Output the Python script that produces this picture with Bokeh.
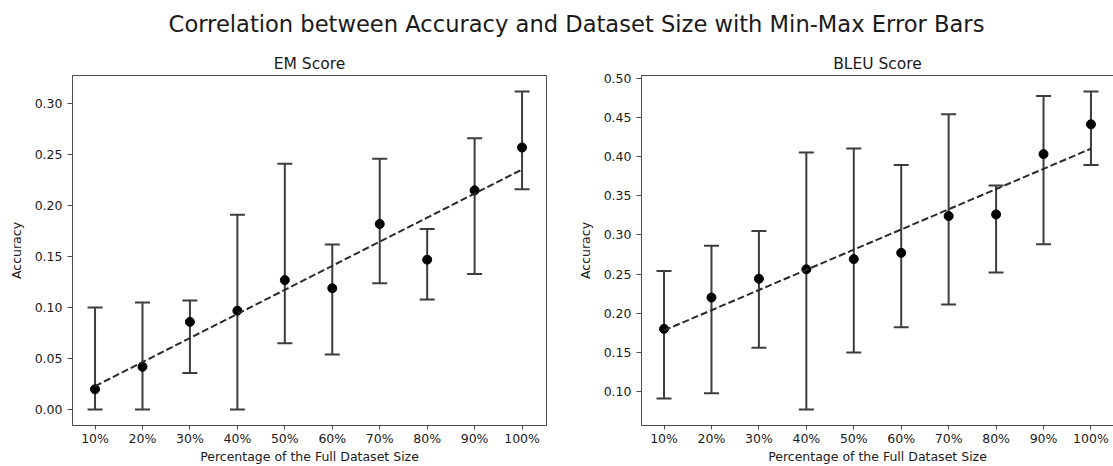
import numpy as np
from bokeh.plotting import figure
from bokeh.layouts import column, row
from bokeh.models import (Range1d, FixedTicker, Label, LinearAxis,
                          NumeralTickFormatter, ColumnDataSource)
from bokeh.embed import file_html
from bokeh.resources import INLINE

# Dataset fractions used for training
sizes = ["10%", "20%", "30%", "40%", "50%", "60%", "70%", "80%", "90%", "100%"]

# Exact-match score: mean over runs, with min / max across runs
em_mean = [0.020, 0.042, 0.086, 0.097, 0.127, 0.119, 0.182, 0.147, 0.215, 0.257]
em_min = [0.000, 0.000, 0.036, 0.000, 0.065, 0.054, 0.124, 0.108, 0.133, 0.216]
em_max = [0.100, 0.105, 0.107, 0.191, 0.241, 0.162, 0.246, 0.177, 0.266, 0.312]

# BLEU score: mean over runs, with min / max across runs
bleu_mean = [0.180, 0.220, 0.244, 0.256, 0.269, 0.277, 0.324, 0.326, 0.403, 0.441]
bleu_min = [0.091, 0.098, 0.156, 0.077, 0.150, 0.182, 0.211, 0.252, 0.288, 0.389]
bleu_max = [0.254, 0.286, 0.305, 0.405, 0.410, 0.389, 0.454, 0.363, 0.477, 0.483]

em_ticks = [0.00, 0.05, 0.10, 0.15, 0.20, 0.25, 0.30]
bleu_ticks = [0.10, 0.15, 0.20, 0.25, 0.30, 0.35, 0.40, 0.45, 0.50]

FONT = "DejaVu Sans"
SPINE = "#4d4d4d"
BAR = "#3d3d3d"
TEXT = "#1a1a1a"
PANEL_H = 422


def panel(title, mean, lo, hi, yticks, width, border_left, border_right, x_end, full_outline):
    idx = list(range(len(sizes)))
    pad = 0.05 * (max(hi) - min(lo))
    p = figure(width=width, height=PANEL_H, output_backend="svg", toolbar_location=None,
               x_range=Range1d(-0.475, x_end),
               y_range=Range1d(min(lo) - pad, max(hi) + pad),
               min_border_left=border_left, min_border_right=border_right,
               min_border_top=31, min_border_bottom=40, title=title)
    p.background_fill_color = "white"
    p.border_fill_color = "white"
    p.xgrid.visible = False
    p.ygrid.visible = False

    p.title.align = "center"
    p.title.text_font = FONT
    p.title.text_font_size = "15.5px"
    p.title.text_font_style = "normal"
    p.title.text_color = TEXT
    p.title.standoff = 5

    xax = p.below[0]
    yax = p.left[0]
    xax.ticker = FixedTicker(ticks=idx)
    xax.major_label_overrides = {i: s for i, s in enumerate(sizes)}
    xax.axis_label = "Percentage of the Full Dataset Size"
    yax.ticker = FixedTicker(ticks=yticks)
    yax.formatter = NumeralTickFormatter(format="0.00")
    yax.axis_label = "Accuracy"

    for ax in (xax, yax):
        ax.axis_line_color = SPINE
        ax.major_tick_line_color = SPINE
        ax.major_tick_out = 5
        ax.major_tick_in = 0
        ax.minor_tick_line_color = None
        ax.major_label_text_font = FONT
        ax.major_label_text_font_size = "12.5px"
        ax.major_label_text_color = TEXT
        ax.axis_label_text_font = FONT
        ax.axis_label_text_font_size = "12.5px"
        ax.axis_label_text_font_style = "normal"
        ax.axis_label_text_color = TEXT
    xax.major_tick_out = 4
    xax.major_label_standoff = 1
    xax.axis_label_standoff = 0
    yax.major_label_standoff = 5
    yax.axis_label_standoff = 8

    if full_outline:
        p.outline_line_color = SPINE
        p.outline_line_width = 1
    else:
        # top spine only; the right edge runs off the canvas
        p.outline_line_color = None
        top = LinearAxis(ticker=FixedTicker(ticks=[]))
        top.axis_line_color = SPINE
        top.major_tick_line_color = None
        top.minor_tick_line_color = None
        top.major_label_text_font_size = "0px"
        top.major_label_standoff = 0
        top.axis_label = None
        p.add_layout(top, "above")

    src = ColumnDataSource(dict(x=idx, mean=mean, lo=lo, hi=hi))
    # min-max error bars with caps
    p.segment(x0="x", y0="lo", x1="x", y1="hi", source=src, line_color=BAR, line_width=2)
    p.scatter(x="x", y="lo", marker="dash", size=15, source=src, line_color=BAR, line_width=2)
    p.scatter(x="x", y="hi", marker="dash", size=15, source=src, line_color=BAR, line_width=2)
    # mean values
    p.scatter(x="x", y="mean", size=9, source=src, fill_color="black", line_color="black")
    # least-squares trend through the means
    slope, intercept = np.polyfit(idx, mean, 1)
    trend = [slope * i + intercept for i in idx]
    p.line(idx, trend, line_color="#2b2b2b", line_width=2, line_dash="7 3")
    return p


left = panel("EM Score", em_mean, em_min, em_max, em_ticks,
             width=560, border_left=72, border_right=14, x_end=9.515, full_outline=True)
right = panel("BLEU Score", bleu_mean, bleu_min, bleu_max, bleu_ticks,
              width=553, border_left=81, border_right=0, x_end=9.475, full_outline=False)

head = figure(width=1113, height=44, output_backend="svg", toolbar_location=None,
              x_range=Range1d(0, 1113), y_range=Range1d(0, 44),
              x_axis_type=None, y_axis_type=None, min_border=0)
head.outline_line_color = None
head.xgrid.visible = False
head.ygrid.visible = False
head.add_layout(Label(x=576, y=21, text="Correlation between Accuracy and Dataset Size with Min-Max Error Bars",
                      text_font=FONT, text_font_size="22.6px", text_color=TEXT,
                      text_align="center", text_baseline="middle"))

layout = column(head, row(left, right, spacing=0), spacing=0)

with open("out.html", "w") as f:
    f.write(file_html(layout, INLINE))
